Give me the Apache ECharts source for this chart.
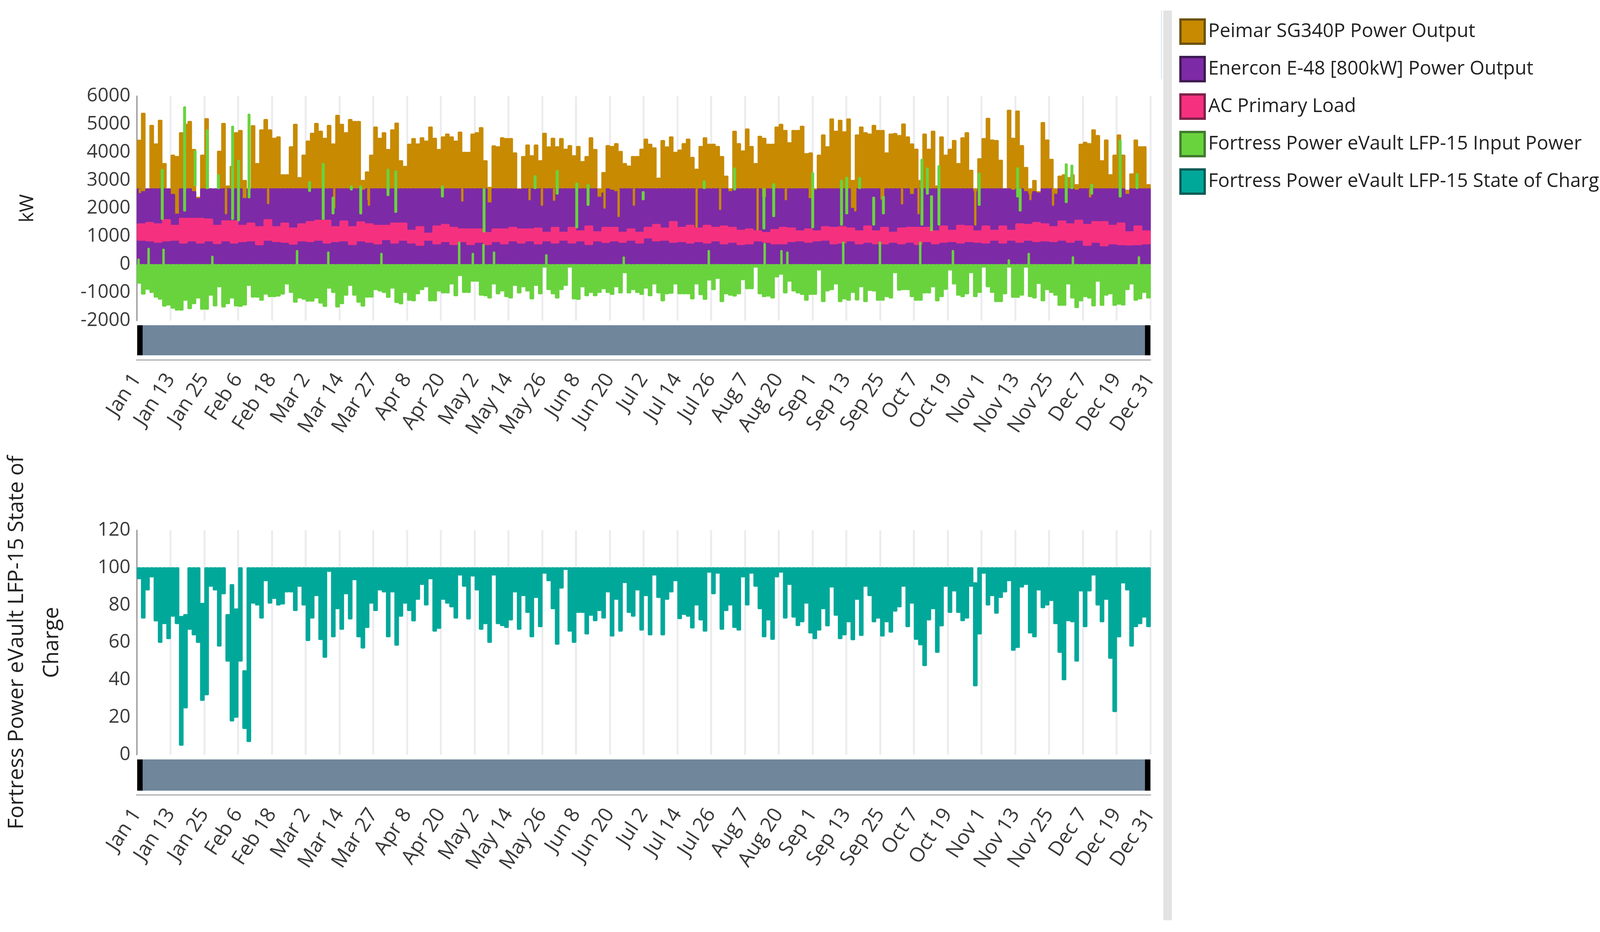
<!DOCTYPE html>
<html lang="en">
<head>
    <meta charset="UTF-8">
    <title>Power output and state of charge</title>
    <script src="https://cdn.jsdelivr.net/npm/echarts@6/dist/echarts.min.js"></script>
    <style>
        html, body {
            margin: 0;
            height: 100%;
            background: #fff;
        }
    </style>
</head>
<body>
<div id="main" style="width: 4130px;height: 2387px"></div>
<script>
    var tickLabels = ['Jan 1', 'Jan 13', 'Jan 25', 'Feb 6', 'Feb 18', 'Mar 2', 'Mar 14', 'Mar 27', 'Apr 8', 'Apr 20', 'May 2',
        'May 14', 'May 26', 'Jun 8', 'Jun 20', 'Jul 2', 'Jul 14', 'Jul 26', 'Aug 7', 'Aug 20', 'Sep 1', 'Sep 13', 'Sep 25',
        'Oct 7', 'Oct 19', 'Nov 1', 'Nov 13', 'Nov 25', 'Dec 7', 'Dec 19', 'Dec 31'];

    // one row per tick interval, 8 readings each
    var peimarPeak = [
        4430, 5390, 2500, 4960, 4300, 5140, 3600, 2200,
        3900, 3850, 4700, 5000, 5100, 4100, 2400, 3900,
        5200, 2700, 2600, 4040, 5030, 2800, 3500, 4700,
        4780, 3000, 2700, 4950, 3600, 4800, 5170, 4800,
        4500, 4550, 3200, 3200, 4200, 5000, 3100, 3900,
        4400, 4680, 5030, 4750, 4500, 4960, 4300, 5320,
        5000, 4700, 5170, 5100, 5100, 3000, 3300, 3900,
        4900, 4500, 4700, 4100, 4800, 5040, 3700, 3500,
        4290, 4490, 4300, 4520, 4400, 4900, 4500, 4100,
        4550, 4650, 4550, 4400, 4720, 4000, 4000, 4650,
        4700, 4880, 3700, 2750, 4230, 4200, 4520, 4490,
        4490, 3980, 2700, 3850, 4260, 3880, 4260, 3700,
        4680, 4190, 4500, 4200, 4490, 4110, 4240, 3880,
        4210, 3670, 3850, 4520, 4100, 2700, 3280, 4240,
        4210, 4310, 4030, 3600, 3510, 3850, 3850, 4110,
        4470, 4290, 4160, 3080, 4420, 4190, 4550, 4000,
        4080, 4310, 4470, 3820, 3400, 4210, 4520, 4290,
        4290, 4210, 3850, 3150, 2700, 4750, 4310, 4050,
        4830, 4210, 3600, 4570, 4500, 4290, 4290, 4900,
        5000, 4780, 4340, 4780, 4780, 4930, 3950, 3980,
        2700, 3900, 4620, 4200, 5190, 4750, 5140, 4730,
        5190, 3000, 4620, 4900, 4700, 4650, 4960, 4780,
        4780, 3980, 4650, 4670, 4600, 5010, 4550, 4300,
        4110, 3000, 4650, 4110, 4750, 2800, 4550, 3900,
        4110, 4420, 3600, 4520, 4700, 3360, 2700, 3770,
        4490, 5210, 4440, 4420, 3720, 2700, 5500, 4500,
        5470, 4240, 3460, 2700, 3000, 2600, 5060, 4440,
        3750, 2700, 3150, 3200, 3100, 3200, 2850, 4290,
        4360, 4310, 4800, 4600, 3700, 4440, 3200, 3900,
        4620, 3900, 2650, 3230, 4440, 4200, 4200, 2850
    ];
    var enerconPeak = [
        2700, 2600, 2700, 2700, 2700, 2700, 2700, 2700,
        2500, 1800, 2700, 2700, 2700, 2600, 2350, 2700,
        2700, 2700, 2700, 2700, 2700, 2700, 2700, 2700,
        2700, 2350, 2700, 2700, 2700, 2700, 2700, 2700,
        2700, 2700, 2700, 2700, 2700, 2700, 2700, 2700,
        2700, 2700, 2700, 2700, 2700, 2700, 2700, 2700,
        2700, 2700, 2700, 2700, 2700, 2650, 2700, 2700,
        2700, 2700, 2700, 2700, 2700, 2700, 2700, 2700,
        2700, 2700, 2700, 2700, 2700, 2700, 2700, 2700,
        2700, 2700, 2700, 2700, 2700, 2700, 2700, 2700,
        2700, 2700, 2700, 2200, 2700, 2700, 2700, 2700,
        2700, 2700, 2680, 2700, 2700, 2700, 2700, 2700,
        2700, 2700, 2700, 2700, 2700, 2700, 2700, 2700,
        2700, 2700, 2700, 2700, 2700, 2400, 2550, 2700,
        2650, 2600, 2700, 2700, 2700, 2700, 2700, 2700,
        2700, 2700, 2700, 2700, 2700, 2700, 2700, 2700,
        2700, 2700, 2700, 2700, 2700, 2700, 2700, 2700,
        2700, 2700, 2700, 2700, 2600, 2700, 2700, 2700,
        2700, 2700, 2700, 2700, 2400, 2700, 2700, 2700,
        2700, 2700, 2700, 2700, 2700, 2700, 2700, 2350,
        2650, 2700, 2700, 2700, 2700, 2700, 2700, 2700,
        2700, 2000, 2700, 2700, 2700, 2700, 2700, 2700,
        2300, 2700, 2700, 2700, 2700, 2700, 2700, 2500,
        2700, 2700, 2700, 2700, 2700, 2700, 2700, 2700,
        2700, 2700, 2700, 2700, 2700, 2700, 2600, 2700,
        2700, 2700, 2700, 2700, 2700, 2700, 2700, 2650,
        2700, 2700, 2600, 2500, 2600, 2550, 2700, 2700,
        2700, 2500, 2700, 2700, 2700, 2700, 2650, 2700,
        2700, 2700, 2700, 2700, 2700, 2700, 2700, 2700,
        2700, 2700, 2500, 2700, 2700, 2700, 2700, 2700
    ];
    var fortressDraw = [
        -670, -1060, -890, -1000, -1170, -1240, -1490, -1450,
        -1560, -1630, -1630, -1280, -1580, -1400, -1200, -1600,
        -1600, -1100, -1480, -800, -1520, -1400, -1200, -1480,
        -1500, -1450, -750, -1170, -1170, -1280, -1060, -1150,
        -1150, -1130, -1060, -700, -1000, -1350, -1200, -1240,
        -1310, -1310, -1200, -1380, -1500, -850, -1000, -1520,
        -1400, -1100, -750, -1100, -1350, -1490, -1170, -1170,
        -900, -950, -1000, -1175, -850, -1360, -1410, -1000,
        -1280, -1300, -1050, -900, -800, -1300, -1300, -950,
        -1020, -1020, -700, -1120, -400, -1000, -1000, -600,
        -600, -1100, -1120, -1200, -700, -1050, -950, -1150,
        -1200, -750, -1020, -800, -950, -1230, -750, -1050,
        -100, -900, -1050, -1200, -900, -750, -100, -1230,
        -1250, -800, -1120, -1000, -1120, -1000, -870, -1000,
        -1070, -800, -1020, -300, -1020, -900, -1000, -1070,
        -850, -1120, -700, -1020, -1300, -1050, -1030, -700,
        -1050, -1050, -1050, -1230, -700, -1080, -1250, -560,
        -900, -500, -1330, -1050, -1100, -1130, -1050, -550,
        -870, -870, -100, -1050, -1150, -1130, -1200, -450,
        -350, -1020, -600, -950, -1020, -1070, -1280, -1070,
        -1070, -200, -1330, -950, -900, -700, -1330, -1230,
        -1280, -1000, -1270, -800, -1330, -930, -950, -1280,
        -1280, -1150, -1200, -300, -920, -900, -900, -1150,
        -1280, -1280, -1020, -1020, -800, -1300, -1150, -890,
        -200, -700, -1100, -1150, -1050, -300, -1150, -1000,
        -100, -800, -1000, -1330, -1330, -1050, -100, -1175,
        -1175, -1100, -100, -1150, -1200, -680, -1300, -900,
        -1000, -1100, -1460, -1460, -700, -1200, -1540, -1300,
        -1150, -1200, -1480, -600, -1460, -1100, -1050, -1460,
        -1420, -1450, -900, -700, -1280, -1230, -1000, -1200
    ];
    var socLow = [
        94, 73, 88, 95, 71.5, 60, 70, 62,
        74, 70, 5, 25, 67, 64, 60, 29,
        32, 90, 88, 58, 86, 50, 18, 20,
        50, 14, 7, 81, 80, 73, 93, 81,
        83.5, 80, 80.5, 87, 87, 77, 90, 80,
        61, 73, 85, 61.5, 52, 98, 63, 78,
        67, 86, 72.5, 93.5, 63, 57, 68, 81,
        77, 88, 87, 63, 87, 58.5, 74, 81,
        77, 71.5, 83, 91, 80, 94, 66, 67.5,
        83, 81, 79, 73, 96, 90, 72.5, 95.5,
        88, 67, 70, 60, 96, 70, 69, 68,
        72, 87, 67, 85, 76, 63, 84, 68.4,
        97, 93, 78, 59, 89, 99, 66, 60,
        76, 76, 64.5, 74.5, 71.6, 77, 73, 87,
        63.4, 83, 66, 92, 76, 74, 88, 66.6,
        85, 64, 96, 84, 64, 83, 87, 93,
        72.7, 75, 74, 67.7, 80, 72, 66, 97.5,
        86, 97, 67, 77, 80, 68, 66.6, 95,
        80, 97, 90, 78, 63, 72, 61.6, 95,
        97.5, 73, 91, 73.5, 69, 71, 81, 65,
        62, 66.6, 78, 68.8, 89.6, 74.5, 62, 64,
        71, 61.4, 83, 63.7, 90, 85, 71, 73,
        63.4, 71, 65.5, 76.7, 79, 90, 68.4, 81,
        61.6, 58.7, 47.6, 72, 78, 54.7, 68.8, 90,
        76, 87.5, 76, 71.6, 73, 90, 36.8, 64.5,
        97, 80, 85, 75.6, 84, 87, 93, 55.8,
        57.3, 89.6, 91, 65, 63, 88, 78.5, 80,
        82.4, 70, 54.7, 40, 71.6, 71, 50, 87.5,
        68.4, 87.5, 96, 80, 71, 83, 51.5, 23,
        63, 91.8, 88, 58, 68.4, 70, 73.5, 68.4
    ];
    // readings where the charge stayed below full across a whole reading
    var socGapIndex = [10, 11, 15, 21, 22, 23, 25, 198];
    var socGapTop = [74, 75, 81, 75, 91, 78, 45, 92];
    var socFull = 100;

    // one row per tick interval, 4 readings each
    var loadTop = [
        1450, 1500, 1450, 1600,
        1400, 1650, 1650, 1650,
        1620, 1400, 1560, 1560,
        1400, 1480, 1350, 1600,
        1350, 1480, 1300, 1450,
        1530, 1580, 1580, 1350,
        1550, 1350, 1520, 1450,
        1400, 1400, 1480, 1480,
        1220, 1350, 1120, 1375,
        1430, 1325, 1270, 1270,
        1270, 1140, 1270, 1270,
        1325, 1270, 1270, 1300,
        1150, 1325, 1150, 1325,
        1200, 1375, 1170, 1325,
        1325, 1150, 1270, 1150,
        1325, 1430, 1300, 1530,
        1325, 1400, 1300, 1400,
        1325, 1375, 1325, 1220,
        1270, 1200, 1140, 1250,
        1325, 1300, 1200, 1270,
        1200, 1350, 1325, 1350,
        1300, 1200, 1375, 1200,
        1325, 1150, 1300, 1325,
        1325, 1325, 1200, 1375,
        1220, 1400, 1375, 1200,
        1375, 1220, 1375, 1220,
        1450, 1430, 1500, 1450,
        1350, 1550, 1450, 1580,
        1430, 1530, 1530, 1400,
        1480, 1170, 1375, 1200
    ];
    var loadBottom = [
        860, 835, 785, 835,
        860, 760, 835, 760,
        835, 740, 835, 760,
        810, 835, 700, 860,
        810, 785, 720, 835,
        810, 860, 760, 810,
        835, 705, 835, 785,
        730, 880, 760, 860,
        760, 680, 860, 730,
        810, 705, 810, 705,
        785, 705, 810, 730,
        835, 760, 835, 730,
        835, 760, 860, 760,
        835, 705, 835, 780,
        835, 785, 860, 760,
        940, 835, 860, 785,
        810, 760, 810, 760,
        835, 730, 785, 705,
        730, 835, 785, 730,
        730, 810, 835, 785,
        835, 860, 730, 760,
        835, 730, 785, 730,
        730, 785, 730, 785,
        705, 810, 730, 785,
        810, 760, 810, 785,
        760, 860, 760, 860,
        785, 860, 810, 835,
        810, 860, 785, 860,
        680, 785, 660, 730,
        700, 690, 700, 730
    ];

    // narrow marks: hour of the year, bottom and top in kW
    var chargeSpikeHour = [412, 608, 503, 219, 827, 878, 969, 705, 1492, 1610, 1853, 1934, 1695, 2170, 2237, 2640, 3000, 3441, 3632, 3801,
        3899, 5165, 4902, 4375, 5418, 5503, 5840, 6089, 6134, 6246, 6451, 6367, 6784, 6831, 6867, 6931, 7279, 7611, 7633, 8031,
        8080, 8251, 8497, 8643];
    var chargeSpikeLow = [1900, 2700, 2800, 1600, 1600, 1550, 2370, 2700, 2600, 1600, 2650, 1800, 1800, 2450, 1850, 2400, 1150, 2700, 2500, 1300,
        2100, 2650, 2700, 2300, 1260, 1700, 1300, 1400, 1800, 2700, 1800, 1400, 1400, 2500, 1200, 1400, 2100, 2400, 1900, 2200,
        2700, 2500, 2400, 2700];
    var chargeSpikeHigh = [5620, 4800, 4050, 3390, 4930, 3720, 5360, 3200, 2950, 3600, 2800, 2800, 2400, 3400, 3340, 2800, 2700, 3170, 3350, 2900,
        2850, 3440, 2980, 2600, 2700, 2880, 3270, 3000, 3110, 3100, 2430, 2400, 3750, 3440, 2450, 3520, 3260, 3450, 2700, 3590,
        3540, 2860, 4430, 3240];
    var chargeRiseHour = [101, 14, 230, 652, 1384, 1654, 2113, 2785, 2903, 3086, 3538, 4207, 2995, 4942, 5621, 5570, 6104, 6421, 5425, 6769,
        7707, 8089, 7535, 8659, 7052];
    var chargeRiseHigh = [580, 200, 550, 300, 500, 450, 400, 800, 400, 450, 350, 270, 720, 500, 450, 500, 800, 800, 750, 800,
        400, 280, 170, 280, 500];
    var peimarDipHour = [1134, 770, 1705, 2005, 26, 2812, 2000, 3605, 4163, 4041, 3393, 3500, 4295, 5040, 4837, 5364, 5608, 6208, 6612, 6755,
        7245, 7721, 7917, 8237];
    var peimarDipLow = [2160, 1800, 2000, 2100, 2550, 2250, 2300, 2280, 1700, 2000, 2300, 2100, 2100, 1950, 1300, 1200, 2300, 1900, 2150, 1800,
        1400, 2300, 2100, 2400];
    var peimarDipTop = 2700;

    var hoursInYear = 8760;
    var tickHours = 292;
    var seriesNames = ['Peimar SG340P Power Output', 'Enercon E-48 [800kW] Power Output', 'AC Primary Load',
        'Fortress Power eVault LFP-15 Input Power', 'Fortress Power eVault LFP-15 State of Charge'];
    var seriesColors = ['#C78A00', '#7D2AA6', '#F5317F', '#69D33E', '#00A89A'];
    var swatchBorders = ['#6E5212', '#3E1A52', '#7E2148', '#417A30', '#0F5C55'];

    // each reading becomes one row: from hour, to hour, bottom, top
    function columnRows(tops, bottoms) {
        var step = hoursInYear / tops.length;
        return tops.map(function (top, i) {
            return [i * step, (i + 1) * step, bottoms === 0 ? 0 : bottoms[i], top];
        });
    }

    function downwardRows(lows) {
        var step = hoursInYear / lows.length;
        return lows.map(function (low, i) {
            return [i * step, (i + 1) * step, low, 0];
        });
    }

    function spikeRows(hours, lows, highs, width) {
        return hours.map(function (hour, i) {
            return [hour - width / 2, hour + width / 2, lows === 0 ? 0 : lows[i], highs === peimarDipTop ? highs : highs[i]];
        });
    }

    function socRows() {
        var step = hoursInYear / socLow.length;
        return socLow.map(function (low, i) {
            var gap = socGapIndex.indexOf(i);
            return [i * step, (i + 1) * step, low, gap >= 0 ? socGapTop[gap] : socFull];
        });
    }

    function renderColumn(params, api) {
        var start = api.coord([api.value(0), api.value(3)]);
        var end = api.coord([api.value(1), api.value(2)]);
        return {
            type: 'rect',
            shape: {x: start[0], y: start[1] - 1, width: end[0] - start[0] + 1, height: end[1] - start[1] + 2, r: 3},
            style: api.style()
        };
    }

    function columnSeries(colorIndex, rows, gridIndex) {
        return {
            name: seriesNames[colorIndex],
            type: 'custom',
            xAxisIndex: gridIndex,
            yAxisIndex: gridIndex,
            renderItem: renderColumn,
            itemStyle: {color: seriesColors[colorIndex]},
            encode: {x: [0, 1], y: [2, 3]},
            animation: false,
            silent: true,
            data: rows
        };
    }

    function sliderFor(axisIndex, top, height) {
        return {
            type: 'slider',
            xAxisIndex: axisIndex,
            filterMode: 'none',
            left: 357,
            right: 1191,
            top: top,
            height: height,
            start: 0,
            end: 100,
            showDetail: false,
            showDataShadow: false,
            brushSelect: false,
            moveHandleSize: 0,
            backgroundColor: '#6F869B',
            fillerColor: '#6F869B',
            borderColor: 'transparent',
            handleIcon: 'path://M0 0H14V' + height + 'H0Z',
            handleSize: '100%',
            handleStyle: {color: '#000', borderWidth: 0}
        };
    }

    function xAxisFor(gridIndex, offset) {
        return {
            type: 'value',
            gridIndex: gridIndex,
            min: 0,
            max: hoursInYear,
            interval: tickHours,
            offset: offset,
            axisLine: {onZero: false, lineStyle: {color: '#BDBDBD', width: 4}},
            axisTick: {show: false},
            splitLine: {show: true, lineStyle: {color: '#ECECF0', width: 5}},
            axisLabel: {
                rotate: 57,
                margin: 40,
                hideOverlap: false,
                showMinLabel: true,
                showMaxLabel: true,
                verticalAlign: 'middle',
                padding: [0, 0, 34, 0],
                fontFamily: 'Open Sans',
                fontSize: 52,
                color: '#3A3A3A',
                formatter: function (value) {
                    return tickLabels[Math.round(value / tickHours)];
                }
            }
        };
    }

    function yAxisFor(gridIndex, min, max, interval, name, nameGap, nameSize) {
        return {
            type: 'value',
            gridIndex: gridIndex,
            min: min,
            max: max,
            interval: interval,
            name: name,
            nameLocation: 'middle',
            nameGap: nameGap,
            nameRotate: 90,
            nameTextStyle: {fontFamily: 'Open Sans', fontSize: nameSize, color: '#222', lineHeight: 90},
            axisLine: {show: true, lineStyle: {color: '#999', width: 3}},
            axisTick: {show: false},
            splitLine: {show: false},
            axisLabel: {
                fontFamily: 'Open Sans',
                fontSize: 49,
                color: '#3A3A3A',
                margin: 16,
                formatter: function (value) {
                    return String(value);
                }
            }
        };
    }

    var myChart = echarts.init(document.getElementById('main'));
    var option = {
        backgroundColor: '#fff',
        animation: false,
        legend: {
            orient: 'vertical',
            left: 3014,
            top: 42,
            itemWidth: 62,
            itemHeight: 62,
            itemGap: 28,
            icon: 'rect',
            selectedMode: false,
            textStyle: {fontFamily: 'Open Sans', fontSize: 49, color: '#222', lineHeight: 60, padding: [0, 0, 0, 4]},
            data: seriesNames.map(function (name, i) {
                return {name: name, itemStyle: {color: seriesColors[i], borderColor: swatchBorders[i], borderWidth: 6}};
            })
        },
        graphic: [
            {type: 'rect', shape: {x: 2978, y: 27, width: 22, height: 2330}, style: {fill: '#E3E3E3'}},
            {type: 'rect', shape: {x: 2972, y: 27, width: 3, height: 175}, style: {fill: '#DDE8F3'}}
        ],
        grid: [
            {left: 350, width: 2595, top: 246, height: 575, outerBoundsMode: 'none'},
            {left: 350, width: 2595, top: 1358, height: 575, outerBoundsMode: 'none'}
        ],
        xAxis: [xAxisFor(0, 101), xAxisFor(1, 103)],
        yAxis: [
            yAxisFor(0, -2000, 6000, 1000, 'kW', 234, 50),
            yAxisFor(1, 0, 120, 20, 'Fortress Power eVault LFP-15 State of\nCharge', 172, 55)
        ],
        dataZoom: [sliderFor(0, 833, 77), sliderFor(1, 1945, 80)],
        series: [
            columnSeries(0, columnRows(peimarPeak, 0), 0),
            columnSeries(1, columnRows(enerconPeak, 0), 0),
            columnSeries(0, spikeRows(peimarDipHour, peimarDipLow, peimarDipTop, 17), 0),
            columnSeries(2, columnRows(loadTop, loadBottom), 0),
            columnSeries(3, downwardRows(fortressDraw), 0),
            columnSeries(3, spikeRows(chargeSpikeHour, chargeSpikeLow, chargeSpikeHigh, 22), 0),
            columnSeries(3, spikeRows(chargeRiseHour, 0, chargeRiseHigh, 18), 0),
            columnSeries(4, socRows(), 1)
        ]
    };
    myChart.setOption(option);
</script>
</body>
</html>
